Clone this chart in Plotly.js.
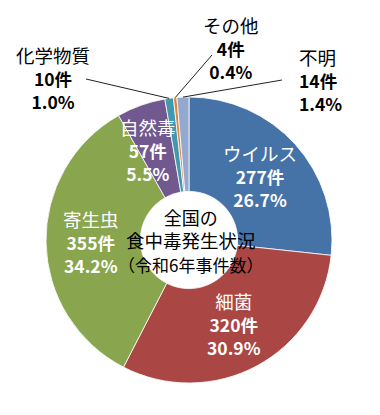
<!DOCTYPE html>
<html>
<head>
<meta charset="utf-8">
<script src="https://cdn.plot.ly/plotly-3.0.1.min.js"></script>
<style>html,body{margin:0;padding:0;background:#fff;}#chart{width:380px;height:415px;}</style>
</head>
<body>
<div id="chart"></div>
<script>
// ---- data ----
const categories = ['ウイルス', '細菌', '寄生虫', '自然毒', '化学物質', 'その他', '不明'];
const counts = [277, 320, 355, 57, 10, 4, 14];
const centerLines = ['全国の', '食中毒発生状況', '（令和6年事件数）'];

// ---- styles ----
const colors = ['#4572A7', '#AA4643', '#89A54E', '#71588F', '#4198AF', '#DB843D', '#93A9CF'];
const FONT = '"Noto Sans CJK JP", "Noto Sans", sans-serif';
const W = 380, H = 415;
const M = {l: 46, r: 48, t: 97, b: 32};
const PW = W - M.l - M.r, PH = H - M.t - M.b;
const CX = M.l + PW / 2, CY = M.t + PH / 2, R = Math.min(PW, PH) / 2;
const HOLE = 0.34;

function toPaper(px, py) { return {x: (px - M.l) / PW, y: 1 - (py - M.t) / PH}; }

const total = counts.reduce((a, b) => a + b, 0);
const pct = counts.map(v => (v / total * 100).toFixed(1) + '%');

// mid angles (clockwise from 12 o'clock)
let cum = 0;
const mids = counts.map(v => { const a0 = cum; cum += v; return ((a0 + cum) / 2) / total * 2 * Math.PI; });
function polar(theta, r) { return [CX + r * Math.sin(theta), CY - r * Math.cos(theta)]; }

const annotations = [];
const shapes = [];
const insideCount = 4;
const rIn = 0.67 * R;
const insideNudge = [[0, 0], [0, 0], [-2, 0], [-9, 0]];
for (let i = 0; i < insideCount; i++) {
  const [px, py] = polar(mids[i], rIn);
  const p = toPaper(px + insideNudge[i][0], py + insideNudge[i][1]);
  annotations.push({
    xref: 'paper', yref: 'paper', x: p.x, y: p.y, xanchor: 'center', yanchor: 'middle',
    showarrow: false, align: 'center',
    font: {family: FONT, size: 17.5, color: '#ffffff'},
    text: '<span style="font-size:18.5px">' + categories[i] + '</span><br><b>' + counts[i] + '件</b><br><b>' + pct[i] + '</b>'
  });
}
// outside label placements (layout only)
const outside = {
  4: {tx: 53, ty: 78, anchor: 'center', lx: 86, ly: 79},
  5: {tx: 231, ty: 48, anchor: 'center', lx: 212, ly: 55},
  6: {tx: 297, ty: 80, anchor: 'left', lx: 282, ly: 80}
};
for (let i = insideCount; i < categories.length; i++) {
  const o = outside[i];
  const p = toPaper(o.tx, o.ty);
  annotations.push({
    xref: 'paper', yref: 'paper', x: p.x, y: p.y, xanchor: o.anchor, yanchor: 'middle',
    showarrow: false, align: o.anchor === 'left' ? 'left' : 'center',
    font: {family: FONT, size: 17.5, color: '#000000'},
    text: '<span style="font-size:18.5px">' + categories[i] + '</span><br><b>' + counts[i] + '件</b><br><b>' + pct[i] + '</b>'
  });
  const [ex, ey] = polar(mids[i], R);
  const a = toPaper(o.lx, o.ly), b = toPaper(ex, ey);
  shapes.push({type: 'line', xref: 'paper', yref: 'paper', x0: a.x, y0: a.y, x1: b.x, y1: b.y,
    line: {color: '#222222', width: 1}});
}
// center text
const cp = toPaper(CX + 1, CY);
annotations.push({
  xref: 'paper', yref: 'paper', x: cp.x, y: cp.y, xanchor: 'center', yanchor: 'middle',
  showarrow: false, align: 'center',
  font: {family: FONT, size: 18, color: '#000000'},
  text: centerLines[0] + '<br><span style="font-size:18.5px">' + centerLines[1] + '</span><br><span style="font-size:17px">' + centerLines[2] + '</span>'
});

Plotly.newPlot('chart', [{
  type: 'pie',
  labels: categories,
  values: counts,
  hole: HOLE,
  sort: false,
  direction: 'clockwise',
  rotation: 0,
  textinfo: 'none',
  hoverinfo: 'none',
  marker: {colors: colors, line: {color: '#ffffff', width: 0.8}}
}], {
  width: W, height: H,
  margin: M,
  showlegend: false,
  paper_bgcolor: '#ffffff',
  annotations: annotations,
  shapes: shapes
}, {staticPlot: true});
</script>
</body>
</html>
